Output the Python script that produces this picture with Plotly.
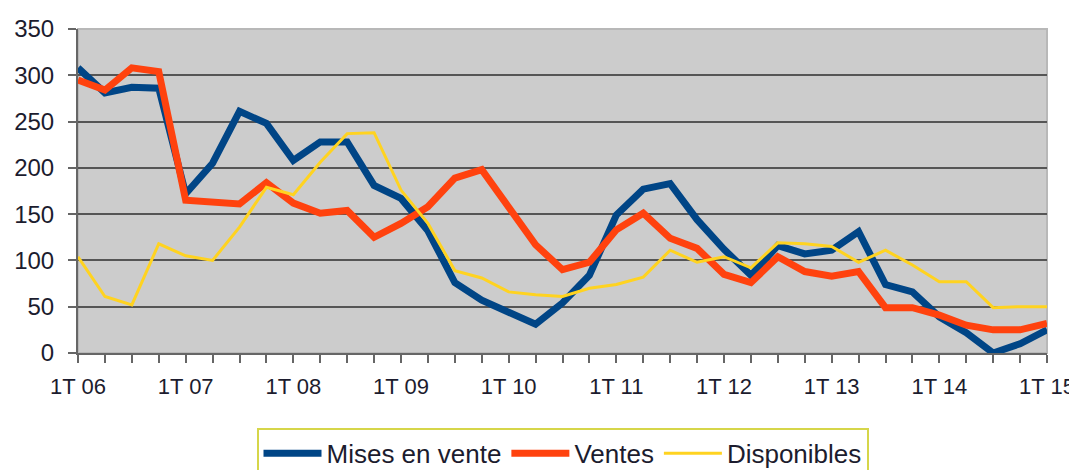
import plotly.graph_objects as go

years = ["06", "07", "08", "09", "10", "11", "12", "13", "14", "15"]
quarters = [f"{q}T {y}" for y in years for q in (1, 2, 3, 4)][:37]
tick_labels = [q if q.startswith("1T") else "" for q in quarters]

mises_en_vente = [308, 281, 287, 286, 172, 205, 261, 248, 208, 228,
                  228, 181, 167, 132, 76, 57, 44, 31, 54, 84,
                  149, 177, 183, 144, 112, 84, 116, 107, 111, 131,
                  74, 66, 39, 22, 0, 10, 25]
ventes = [295, 284, 308, 304, 165, 163, 161, 184, 162, 151,
          154, 125, 140, 158, 189, 198, 158, 117, 90, 98,
          133, 151, 124, 113, 85, 76, 104, 88, 83, 88,
          49, 49, 41, 30, 25, 25, 32]
disponibles = [104, 61, 52, 118, 105, 100, 136, 179, 171, 206,
               237, 238, 176, 140, 89, 81, 66, 63, 61, 70,
               74, 82, 111, 98, 104, 92, 119, 118, 115, 98,
               111, 95, 77, 77, 49, 50, 50]

font_family = "Liberation Sans, Arial, sans-serif"
text_color = "#1c1c2e"

fig = go.Figure()
fig.add_trace(go.Scatter(x=quarters, y=mises_en_vente, name="Mises en vente",
                         mode="lines", line=dict(color="#004586", width=7)))
fig.add_trace(go.Scatter(x=quarters, y=ventes, name="Ventes",
                         mode="lines", line=dict(color="#ff420e", width=7)))
fig.add_trace(go.Scatter(x=quarters, y=disponibles, name="Disponibles",
                         mode="lines", line=dict(color="#ffd320", width=3)))

# The page body has an 8px default margin, so the figure is sized/offset to compensate.
fig.update_layout(
    width=1069, height=462,
    margin=dict(l=70, r=30, t=21, b=117, autoexpand=False),
    paper_bgcolor="white",
    plot_bgcolor="#cccccc",
    font=dict(family=font_family, size=24, color=text_color),
    showlegend=True,
    legend=dict(orientation="h", x=0.5, xanchor="center", y=-0.231, yanchor="top",
                bordercolor="#d6d64a", borderwidth=2, bgcolor="white",
                font=dict(size=26, color=text_color), itemwidth=58,
                tracegroupgap=0),
)
fig.update_xaxes(
    type="category", range=[0, 36], automargin=False,
    tickmode="array", tickvals=quarters, ticktext=tick_labels,
    tickfont=dict(size=22),
    ticks="outside", ticklen=8, tickcolor="#666666", tickwidth=2,
    showline=True, linecolor="#666666", linewidth=2,
    showgrid=False, zeroline=False, mirror=False,
    tickangle=0, ticklabelstandoff=5,
)
fig.update_yaxes(
    range=[0, 350], tick0=0, dtick=50, automargin=False,
    ticks="outside", ticklen=8, tickcolor="#666666", tickwidth=2,
    showline=True, linecolor="#666666", linewidth=2,
    showgrid=True, gridcolor="#555555", gridwidth=2,
    zeroline=False, ticklabelstandoff=9,
)
# light border at top and right of plot area
fig.add_shape(type="rect", xref="paper", yref="paper", x0=0, x1=1, y0=0, y1=1,
              line=dict(color="#b8b8b8", width=2), layer="below")

fig.write_html("out.html")
